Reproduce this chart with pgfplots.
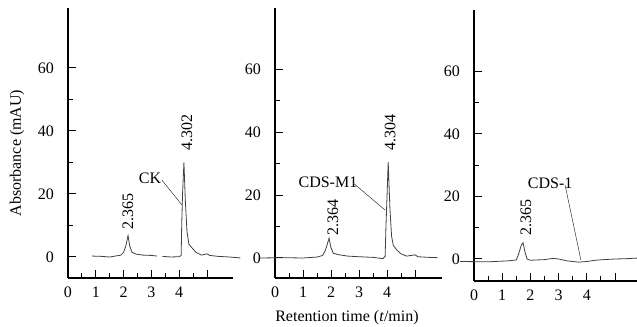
\documentclass[border=0pt]{standalone}
\usepackage{pgfplots}
\pgfplotsset{compat=1.18}
\usepackage{fontspec}
\setmainfont{Liberation Serif}
\newcommand{\lbl}{\fontsize{16bp}{18bp}\selectfont}
\tikzset{ann/.style={font=\lbl}}
\begin{document}
\begin{tikzpicture}
\useasboundingbox (0bp,0bp) rectangle (637bp,327bp);
\pgfplotsset{
 panel/.style={
  scale only axis, axis lines=left,
  axis line style={-, line width=1.5bp},
  clip=false, tick align=inside,
  xmin=0,
  ytick={0,20,40,60}, minor ytick={10,30,50},
  xtick={0,1,2,3,4,5}, xticklabels={0,1,2,3,4,{}},
  minor xtick={0.5,1.5,2.5,3.5,4.5},
  major tick length=8bp, minor tick length=5bp,
  every tick/.style={black, line width=1bp},
  tick label style={font=\lbl, inner sep=0pt},
  yticklabel style={xshift=-14bp},
  xticklabel style={yshift=-9bp},
  /pgf/number format/assume math mode=true,
 },
 trace/.style={draw=black!75, line width=0.8bp, no marks},
}
% Panel 1: CK
\begin{axis}[panel, at={(68bp,49bp)}, anchor=south west, width=165bp, height=270bp,
  xmax=5.935, ymin=-6.667, ymax=79.05]
\addplot[trace] coordinates {(0.86,0.3) (1.2,0.2) (1.5,0.0) (1.7,0.3) (1.9,0.6) (2.0,1.5) (2.08,3.5) (2.16,6.8) (2.22,3.5) (2.3,1.5) (2.45,0.9) (2.7,0.6) (3.0,0.5) (3.2,0.3)};
\addplot[trace] coordinates {(3.4,0.2) (3.7,0.0) (4.0,0.1) (4.07,0.5) (4.09,10) (4.12,20) (4.17,30) (4.22,18) (4.28,8) (4.35,4) (4.45,3) (4.6,1.5) (4.8,0.6) (5.0,1.0) (5.1,0.5) (5.4,0.2) (5.8,0.0) (6.2,-0.3)};
\node[ann] at (axis cs:2.95,25.1) {CK};
\draw[line width=0.5bp, black!80] (axis cs:3.38,24.4) -- (axis cs:4.10,16.5);
\node[ann, rotate=90] at (axis cs:4.28,39.4) {4.302};
\node[ann, rotate=90] at (axis cs:2.16,14.6) {2.365};
\end{axis}
% Panel 2: CDS-M1
\begin{axis}[panel, at={(275bp,49bp)}, anchor=south west, width=167bp, height=270bp,
  xmax=5.96, ymin=-6.35, ymax=79.37]
\addplot[trace] coordinates {(-0.54,0.0) (0.3,0.1) (1.0,0.0) (1.5,0.3) (1.7,0.8) (1.8,2.5) (1.87,4.5) (1.93,6.3) (1.99,3.5) (2.08,1.5) (2.3,1.0) (2.6,0.6) (3.0,0.4) (3.5,0.2) (3.85,-0.2) (3.93,0.5) (3.96,10) (4.0,20) (4.04,30.5) (4.1,16) (4.16,7) (4.22,4) (4.35,2.5) (4.5,1.3) (4.7,0.6) (5.0,1.0) (5.1,0.4) (5.5,0.2) (5.8,0.1)};
\node[ann] at (axis cs:1.89,24.1) {CDS-M1};
\draw[line width=0.5bp, black!80] (axis cs:2.79,23.8) -- (axis cs:3.93,15.2);
\node[ann, rotate=90] at (axis cs:4.11,39.7) {4.304};
\node[ann, rotate=90] at (axis cs:2.07,12.7) {2.364};
\end{axis}
% Panel 3: CDS-1
\begin{axis}[panel, at={(474bp,46bp)}, anchor=south west, width=163bp, height=271bp,
  xmax=5.78, ymin=-7.03, ymax=79.55]
\addplot[trace] coordinates {(-0.5,-0.8) (0.5,-0.9) (1.2,-0.6) (1.5,-0.3) (1.58,1.5) (1.68,4.5) (1.74,5.2) (1.8,2.5) (1.88,0.0) (2.0,-0.4) (2.5,-0.2) (2.8,0.2) (3.0,0.0) (3.3,-0.6) (3.7,-1.0) (4.0,-0.8) (4.3,-0.4) (4.6,-0.2) (5.0,0.0) (5.4,0.1) (5.8,0.3)};
\node[ann] at (axis cs:2.70,24.3) {CDS-1};
\draw[line width=0.5bp, black!80] (axis cs:3.23,23.6) -- (axis cs:3.79,-0.3);
\node[ann, rotate=90] at (axis cs:1.84,13.4) {2.365};
\end{axis}
\node[font=\lbl, rotate=90] at (17bp,174bp) {Absorbance (mAU)};
\node[font=\lbl] at (347bp,9bp) {Retention time (\textit{t}/min)};
\end{tikzpicture}
\end{document}
